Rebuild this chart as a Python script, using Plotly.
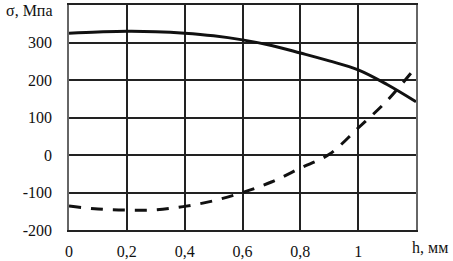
import plotly.graph_objects as go

h = [0, 0.1, 0.2, 0.3, 0.4, 0.5, 0.6, 0.7, 0.8, 0.9, 1.0, 1.1, 1.2]
sigma_solid = [325, 328, 330, 329, 325, 318, 307, 292, 272, 251, 227, 188, 142]
sigma_dashed = [-136, -144, -147, -146, -137, -122, -100, -72, -35, 2, 72, 145, 235]

x_ticks = [0, 0.2, 0.4, 0.6, 0.8, 1.0, 1.2]
x_ticktext = ["0", "0,2", "0,4", "0,6", "0,8", "1", ""]
y_ticks = [-200, -100, 0, 100, 200, 300, 400]
y_ticktext = ["-200", "-100", "0", "100", "200", "300", ""]
y_title = "σ, Мпа"
x_title = "h, мм"

FAM = "Liberation Serif"
font = dict(family=FAM, size=16, color="#111")

fig = go.Figure()
fig.add_trace(go.Scatter(x=h, y=sigma_solid, mode="lines",
                         line=dict(color="#111", width=3, shape="spline"), showlegend=False))
fig.add_trace(go.Scatter(x=h, y=sigma_dashed, mode="lines",
                         line=dict(color="#111", width=3, dash="12px,10px", shape="spline"), showlegend=False))

fig.update_layout(
    width=453, height=261,
    margin=dict(l=69, r=37, t=5, b=31, autoexpand=False),
    paper_bgcolor="white", plot_bgcolor="white",
    font=font,
)
fig.update_xaxes(range=[0, 1.2], tickmode="array", tickvals=x_ticks, ticktext=x_ticktext,
                 showgrid=True, gridcolor="#222", gridwidth=1.8, zeroline=False,
                 showline=True, linecolor="#222", linewidth=1.8, mirror=True,
                 ticks="outside", ticklen=6, tickcolor="rgba(0,0,0,0)",
                 tickfont=dict(family=FAM, size=16, color="#111"))
fig.update_yaxes(range=[-200, 400], tickmode="array", tickvals=y_ticks, ticktext=y_ticktext,
                 showgrid=True, gridcolor="#222", gridwidth=1.5, zeroline=False,
                 showline=True, linecolor="#666", linewidth=1.5, mirror=True,
                 ticks="outside", ticklen=12, tickcolor="rgba(0,0,0,0)",
                 tickfont=dict(family=FAM, size=16, color="#111"))
fig.add_annotation(x=(410 - 69) / 347, y=-(247 - 230) / 225, xref="x domain", yref="y domain",
                   text=x_title, showarrow=False, xanchor="left", yanchor="middle", font=font)
fig.add_annotation(x=-(69 - 55) / 347, y=1 - (11 - 5) / 225, xref="x domain", yref="y domain",
                   text=y_title, showarrow=False, xanchor="right", yanchor="middle", font=font)
fig.write_html("out.html", config={"displayModeBar": False},
               post_script="document.body.style.margin='0';document.body.style.padding='0';")
